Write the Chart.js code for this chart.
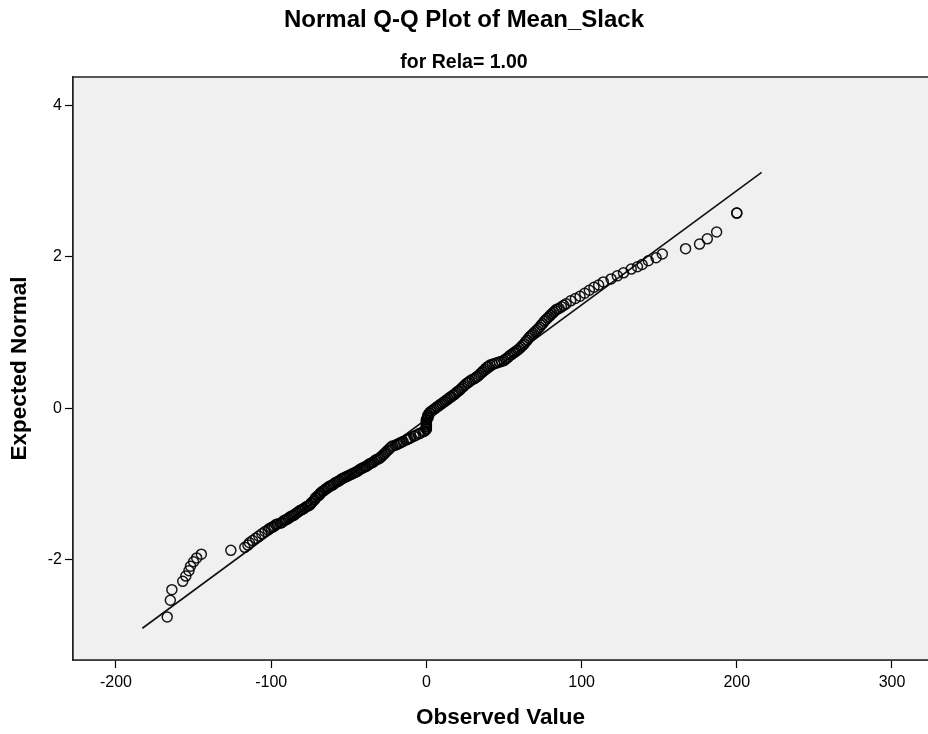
<!DOCTYPE html>
<html>
<head>
<meta charset="utf-8">
<title>Normal Q-Q Plot of Mean_Slack</title>
<script src="https://cdn.jsdelivr.net/npm/chart.js@4"></script>
<style>
    html, body { margin: 0; padding: 0; background: #ffffff; overflow: hidden; }
    #wrap { width: 928px; height: 734px; position: relative; }
</style>
</head>
<body>
<div id="wrap"><canvas id="qqChart"></canvas></div>
<script>
const observed = [
    -167, -165, -164, -157, -155, -153, -152, -150, -148, -145,
    -126, -117, -115, -114, -112, -110, -108, -106, -104, -102,
    -101, -100, -99, -98, -97, -96, -94, -93, -92, -91,
    -90, -89, -88, -87, -86, -85, -84, -83, -82, -81,
    -80, -79, -78, -77, -76, -75, -74.5, -74, -73, -72,
    -71.5, -71, -70, -69, -68.5, -68, -67, -66, -65, -64,
    -63, -62, -61, -60, -59, -58, -57, -56, -55, -54,
    -53, -52, -51, -50, -49, -48, -47, -46, -45, -44,
    -43, -42, -41, -40, -39, -38, -37, -36, -35, -34,
    -33, -32, -31, -30, -29, -28, -27, -26, -25, -24,
    -23, -22, -20, -19, -18, -17, -16, -15, -13, -12,
    -11, -10, -8, -7, -5, -4, -2, -1, 0, 0,
    0, 0, 0, 0, 0, 0, 0, 0, 1, 1,
    1, 1, 2, 2, 3, 4, 5, 6, 7, 8,
    9, 10, 11, 12, 13, 14, 15, 16, 17, 18,
    19, 20, 21, 22, 23, 24, 25, 26, 27, 28,
    29.5, 31, 32, 33, 34, 35, 36, 37, 38, 39,
    40, 41, 42.5, 44, 45.5, 47, 48.5, 50, 51, 52,
    53, 54, 55, 56, 57, 58, 59, 60, 61, 62,
    63, 64, 65, 66, 67, 68, 69, 70, 71, 72,
    73, 74, 75, 76, 77, 78, 79, 80, 81, 82,
    83, 84, 85.5, 87, 88.5, 90, 93, 96, 99, 102,
    105, 108, 111, 114, 119, 123, 127, 132, 136, 139,
    143, 148, 152, 167, 176, 181, 187, 200, 200
];
const expectedNormal = [
    -2.76, -2.54, -2.40, -2.29, -2.22, -2.15, -2.09, -2.03, -1.98, -1.93,
    -1.88, -1.84, -1.81, -1.78, -1.75, -1.72, -1.69, -1.66, -1.63, -1.61,
    -1.59, -1.58, -1.57, -1.56, -1.54, -1.53, -1.52, -1.51, -1.49, -1.48,
    -1.47, -1.46, -1.44, -1.43, -1.42, -1.41, -1.39, -1.38, -1.36, -1.35,
    -1.34, -1.33, -1.31, -1.30, -1.29, -1.28, -1.26, -1.25, -1.23, -1.21,
    -1.19, -1.18, -1.16, -1.15, -1.13, -1.12, -1.10, -1.09, -1.07, -1.06,
    -1.04, -1.03, -1.02, -1.01, -0.99, -0.98, -0.97, -0.96, -0.94, -0.93,
    -0.92, -0.91, -0.90, -0.89, -0.88, -0.87, -0.86, -0.85, -0.84, -0.83,
    -0.81, -0.80, -0.79, -0.78, -0.77, -0.76, -0.74, -0.73, -0.72, -0.71,
    -0.69, -0.68, -0.67, -0.66, -0.64, -0.62, -0.60, -0.58, -0.56, -0.54,
    -0.52, -0.50, -0.49, -0.48, -0.47, -0.46, -0.45, -0.44, -0.42, -0.41,
    -0.40, -0.39, -0.37, -0.36, -0.34, -0.33, -0.31, -0.30, -0.28, -0.27,
    -0.25, -0.24, -0.22, -0.21, -0.19, -0.18, -0.16, -0.15, -0.13, -0.12,
    -0.10, -0.09, -0.07, -0.06, -0.04, -0.03, -0.01, 0.00, 0.02, 0.03,
    0.05, 0.06, 0.08, 0.09, 0.11, 0.12, 0.14, 0.15, 0.17, 0.18,
    0.20, 0.22, 0.23, 0.25, 0.27, 0.29, 0.31, 0.33, 0.34, 0.36,
    0.38, 0.39, 0.41, 0.42, 0.44, 0.46, 0.48, 0.50, 0.52, 0.54,
    0.55, 0.57, 0.58, 0.59, 0.60, 0.61, 0.62, 0.63, 0.65, 0.66,
    0.68, 0.70, 0.71, 0.73, 0.74, 0.76, 0.77, 0.79, 0.81, 0.83,
    0.85, 0.88, 0.90, 0.93, 0.95, 0.97, 0.99, 1.01, 1.03, 1.05,
    1.07, 1.10, 1.12, 1.15, 1.17, 1.19, 1.21, 1.23, 1.25, 1.27,
    1.29, 1.31, 1.32, 1.34, 1.36, 1.38, 1.42, 1.45, 1.48, 1.52,
    1.56, 1.60, 1.63, 1.67, 1.71, 1.75, 1.79, 1.84, 1.87, 1.90,
    1.95, 1.99, 2.04, 2.11, 2.17, 2.24, 2.33, 2.58, 2.58
];

// Reference line end points
const lineX = [-183, 216];
const lineY = [-2.91, 3.12];

// Axis ticks
const xTickValues = [-200, -100, 0, 100, 200, 300];
const yTickValues = [-2, 0, 2, 4];

const fontFamily = '"Liberation Sans", Arial, sans-serif';

// Grey plot background plus a frame round the plot area
const plotFrame = {
    id: 'plotFrame',
    beforeDatasetsDraw(chart) {
        const { ctx, chartArea } = chart;
        ctx.save();
        ctx.fillStyle = '#f0f0f0';
        ctx.fillRect(chartArea.left, chartArea.top, chartArea.right - chartArea.left, chartArea.bottom - chartArea.top);
        ctx.restore();
    },
    afterDraw(chart) {
        const { ctx, chartArea } = chart;
        ctx.save();
        ctx.strokeStyle = '#222';
        ctx.lineWidth = 1.5;
        ctx.strokeRect(chartArea.left, chartArea.top, chartArea.right - chartArea.left + 4, chartArea.bottom - chartArea.top);
        ctx.restore();
    }
};

document.addEventListener('DOMContentLoaded', function() {
    const points = observed.map((x, i) => ({ x: x, y: expectedNormal[i] }));
    const linePoints = lineX.map((x, i) => ({ x: x, y: lineY[i] }));

    const ctx = document.getElementById('qqChart').getContext('2d');
    new Chart(ctx, {
        type: 'scatter',
        data: {
            datasets: [
                {
                    label: 'Observed',
                    data: points,
                    pointStyle: 'circle',
                    pointRadius: 5,
                    pointBorderWidth: 1.5,
                    pointBorderColor: 'rgba(0,0,0,0.9)',
                    pointBackgroundColor: 'rgba(0,0,0,0)',
                    pointHoverRadius: 5
                },
                {
                    label: 'Line',
                    type: 'line',
                    data: linePoints,
                    borderColor: '#111',
                    borderWidth: 1.6,
                    pointRadius: 0,
                    fill: false
                }
            ]
        },
        options: {
            responsive: true,
            maintainAspectRatio: false,
            animation: false,
            devicePixelRatio: 1,
            layout: { autoPadding: false, padding: { left: 0, right: 0, top: 0, bottom: 0 } },
            plugins: {
                legend: { display: false },
                tooltip: { enabled: false },
                title: {
                    display: true,
                    text: 'Normal Q-Q Plot of Mean_Slack',
                    color: '#000',
                    font: { family: fontFamily, size: 24, weight: 'bold', lineHeight: 1.2 },
                    padding: { top: 6, bottom: 16 }
                },
                subtitle: {
                    display: true,
                    text: 'for Rela= 1.00',
                    color: '#000',
                    font: { family: fontFamily, size: 19.5, weight: 'bold', lineHeight: 1.2 },
                    padding: { top: 0, bottom: 2.8 }
                }
            },
            scales: {
                x: {
                    type: 'linear',
                    min: -227.7,
                    max: 323.2,
                    afterBuildTicks: axis => { axis.ticks = xTickValues.map(v => ({ value: v })); },
                    afterFit: axis => {
                        axis.height = 74;
                        axis.paddingLeft = 0;
                        axis.paddingRight = 0;
                    },
                    ticks: {
                        color: '#000',
                        padding: 5,
                        font: { family: fontFamily, size: 16 },
                        maxRotation: 0
                    },
                    grid: {
                        drawOnChartArea: false,
                        drawTicks: true,
                        tickLength: 8,
                        tickColor: '#000',
                        tickWidth: 1.2
                    },
                    border: { display: true, color: '#222', width: 1.5 },
                    title: {
                        display: true,
                        text: 'Observed Value',
                        color: '#000',
                        font: { family: fontFamily, size: 22.5, weight: 'bold', lineHeight: 1.2 },
                        padding: { top: 0, bottom: 3 }
                    }
                },
                y: {
                    type: 'linear',
                    min: -3.33,
                    max: 4.38,
                    afterBuildTicks: axis => { axis.ticks = yTickValues.map(v => ({ value: v })); },
                    afterFit: axis => { axis.width = 73; },
                    ticks: {
                        color: '#000',
                        padding: 3,
                        font: { family: fontFamily, size: 16 }
                    },
                    grid: {
                        drawOnChartArea: false,
                        drawTicks: true,
                        tickLength: 8,
                        tickColor: '#000',
                        tickWidth: 1.2
                    },
                    border: { display: true, color: '#222', width: 1.5 },
                    title: {
                        display: true,
                        text: 'Expected Normal',
                        color: '#000',
                        font: { family: fontFamily, size: 22.5, weight: 'bold', lineHeight: 1.2 },
                        padding: { top: 6, bottom: 0 }
                    }
                }
            }
        },
        plugins: [plotFrame]
    });
});
</script>
</body>
</html>
